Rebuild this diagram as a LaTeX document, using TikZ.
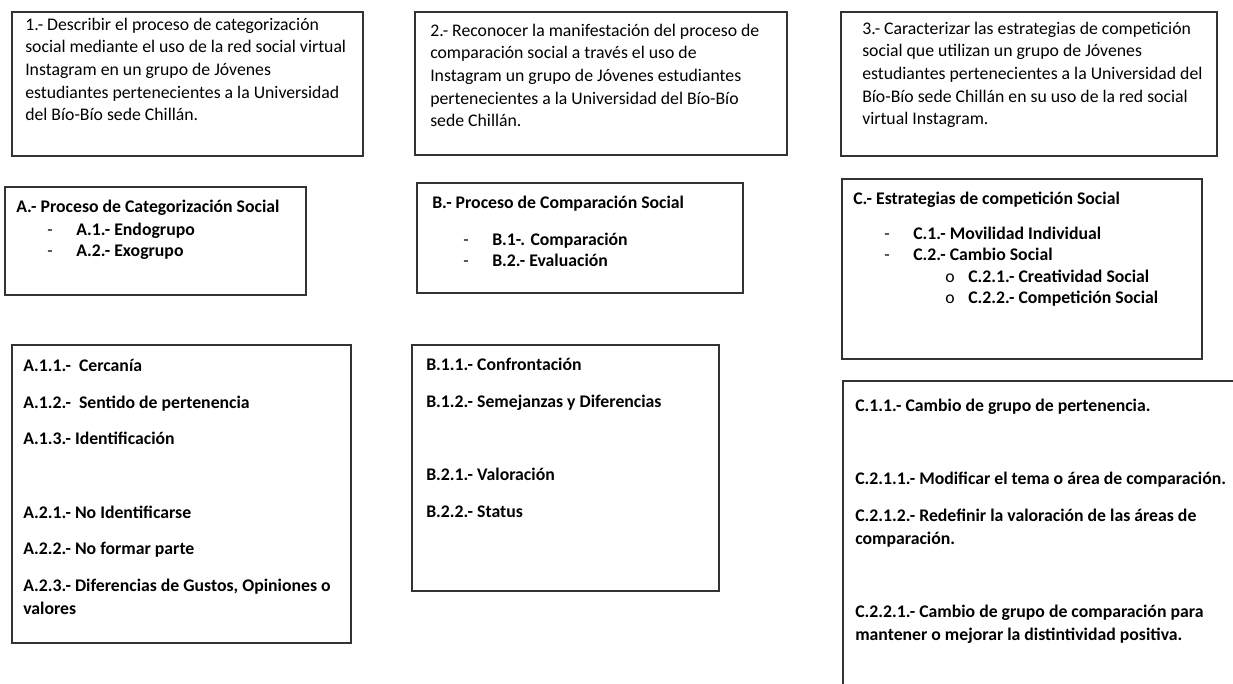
\documentclass[tikz,border=0pt]{standalone}
\usepackage{fontspec}
\setmainfont{Carlito}
\usetikzlibrary{fit}

% list marks of the Word outline
\newcommand{\guion}{\hspace*{23.25pt}\makebox[21.75pt][l]{\mdseries -}}
\newcommand{\circulo}{\hspace*{69pt}\makebox[17.25pt][l]{\mdseries o}}

\tikzset{
  frame/.style={draw=black!80, line width=0.9pt, inner sep=0pt},
  txt/.style={anchor=north west, inner sep=0pt, align=left,
    font=\fontsize{13.3}{17}\selectfont, execute at begin node=\strut},
  btxt/.style={txt, font=\fontsize{13.3}{17}\selectfont\bfseries}
}

\begin{document}
\begin{tikzpicture}[x=0.75pt,y=-0.75pt]
  \clip (0,0) rectangle (1233,684);
  \fill[white] (0,0) rectangle (1233,684);

  % objetivos
  \node[frame, fit={(12,12) (363,156)}] (obj1) {};
  \node[frame, fit={(415,12) (787,155)}] (obj2) {};
  \node[frame, fit={(841,12) (1217,156)}] (obj3) {};
  \node[txt] (obj1t) at (25,17.7) {1.- Describir el proceso de categorización\\
    social mediante el uso de la red social virtual\\
    Instagram en un grupo de Jóvenes\\
    estudiantes pertenecientes a la Universidad\\
    del Bío-Bío sede Chillán.};
  \node[txt] (obj2t) at (430,23.7) {2.- Reconocer la manifestación del proceso de\\
    comparación social a través el uso de\\
    Instagram un grupo de Jóvenes estudiantes\\
    pertenecientes a la Universidad del Bío-Bío\\
    sede Chillán.};
  \node[txt] (obj3t) at (862,21.7) {3.- Caracterizar las estrategias de competición\\
    social que utilizan un grupo de Jóvenes\\
    estudiantes pertenecientes a la Universidad del\\
    Bío-Bío sede Chillán en su uso de la red social\\
    virtual Instagram.};

  % categorias
  \node[frame, fit={(5,187) (306,295)}] (catA) {};
  \node[frame, fit={(417,183) (743,293)}] (catB) {};
  \node[frame, fit={(842,179) (1202,359)}] (catC) {};
  \node[btxt] (catAt) at (16,199.7) {A.- Proceso de Categorización Social\\[0.3pt]
    \guion A.1.- Endogrupo\\[-1pt]
    \guion A.2.- Exogrupo};
  \node[btxt] (catBt) at (432,195.7) {B.- Proceso de Comparación Social\\[10.75pt]
    \guion B.1-. Comparación\\[-1pt]
    \guion B.2.- Evaluación};
  \node[btxt] (catCt) at (853,191.7) {C.- Estrategias de competición Social\\[9.25pt]
    \guion C.1.- Movilidad Individual\\[-1pt]
    \guion C.2.- Cambio Social\\[-1pt]
    \circulo C.2.1.- Creatividad Social\\[-1pt]
    \circulo C.2.2.- Competición Social};

  % subcategorias
  \node[frame, fit={(12,345) (351,643)}] (subA) {};
  \node[frame, fit={(412,345) (719,591)}] (subB) {};
  \node[frame, fit={(843,381) (1240,690)}] (subC) {};
  \node[btxt] (subAt) at (23,359) {A.1.1.-\ \ Cercanía\\[10.5pt]
    A.1.2.-\ \ Sentido de pertenencia\\[10.5pt]
    A.1.3.- Identificación\\[38pt]
    A.2.1.- No Identificarse\\[10.5pt]
    A.2.2.- No formar parte\\[10.5pt]
    A.2.3.- Diferencias de Gustos, Opiniones o\\
    valores};
  \node[btxt] (subBt) at (426,357.7) {B.1.1.- Confrontación\\[10.5pt]
    B.1.2.- Semejanzas y Diferencias\\[38pt]
    B.2.1.- Valoración\\[10.5pt]
    B.2.2.- Status};
  \node[btxt] (subCt) at (855,398.7) {C.1.1.- Cambio de grupo de pertenencia.\\[38pt]
    C.2.1.1.- Modificar el tema o área de comparación.\\[10.5pt]
    C.2.1.2.- Redefinir la valoración de las áreas de\\
    comparación.\\[38pt]
    C.2.2.1.- Cambio de grupo de comparación para\\
    mantener o mejorar la distintividad positiva.};
\end{tikzpicture}
\end{document}
